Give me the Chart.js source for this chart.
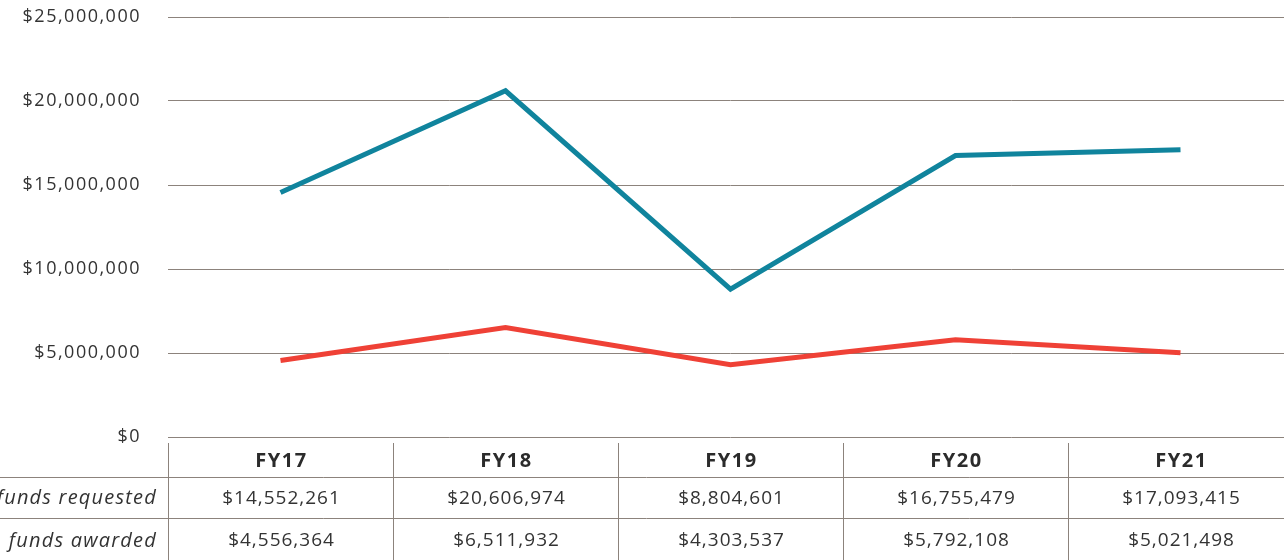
<!DOCTYPE html>
<html>
<head>
<meta charset="utf-8">
<script src="https://cdn.jsdelivr.net/npm/chart.js@4/dist/chart.umd.min.js"></script>
<style>
  html, body { margin: 0; padding: 0; background: #ffffff; overflow: hidden; }
  #wrap { position: relative; width: 1293px; height: 560px; }
</style>
</head>
<body>
<div id="wrap"><canvas id="c"></canvas></div>
<script>
const categories = ['FY17', 'FY18', 'FY19', 'FY20', 'FY21'];
const fundsRequested = [14552261, 20606974, 8804601, 16755479, 17093415];
const fundsAwarded = [4556364, 6511932, 4303537, 5792108, 5021498];
const rowLabels = ['funds requested', 'funds awarded'];
const yTicks = [0, 5000000, 10000000, 15000000, 20000000, 25000000];

const fmt = v => '$' + Number(v).toLocaleString('en-US');
const FONT = '"Open Sans", Lato, sans-serif';
const GRID = '#8c837c';

const spacingPlugin = {
  id: 'spacing',
  beforeDraw(chart) { chart.ctx.letterSpacing = '1.5px'; }
};

const tablePlugin = {
  id: 'dataTable',
  afterDraw(chart) {
    const ctx = chart.ctx;
    const xs = chart.scales.x;
    const area = chart.chartArea;
    const half = (xs.getPixelForValue(1) - xs.getPixelForValue(0)) / 2;
    const top = area.bottom;
    const headTop = top + 6;
    const row1 = top + 40;
    const row2 = top + 81;
    const bottom = chart.height;
    ctx.save();
    ctx.strokeStyle = GRID;
    ctx.lineWidth = 1;
    [row1, row2].forEach(y => {
      ctx.beginPath();
      ctx.moveTo(0, y + 0.5);
      ctx.lineTo(chart.width, y + 0.5);
      ctx.stroke();
    });
    for (let i = 0; i < categories.length; i++) {
      const xl = Math.round(xs.getPixelForValue(i) - half) + 0.5;
      ctx.beginPath();
      ctx.moveTo(xl, headTop);
      ctx.lineTo(xl, bottom);
      ctx.stroke();
    }
    ctx.textAlign = 'center';
    ctx.textBaseline = 'middle';
    categories.forEach((c, i) => {
      const cx = xs.getPixelForValue(i);
      ctx.fillStyle = '#2b2b2b';
      ctx.letterSpacing = '1.5px';
      ctx.font = 'bold 20px ' + FONT;
      ctx.fillText(c, cx + 1, (headTop + row1) / 2 + 1);
      ctx.fillStyle = '#333333';
      ctx.letterSpacing = '1px';
      ctx.font = '19px ' + FONT;
      ctx.fillText(fmt(fundsRequested[i]), cx + 1, (row1 + row2) / 2 + 1);
      ctx.fillText(fmt(fundsAwarded[i]), cx + 1, (row2 + bottom) / 2 + 2);
    });
    ctx.textAlign = 'right';
    ctx.letterSpacing = '1.2px';
    ctx.font = 'italic 20px ' + FONT;
    ctx.fillStyle = '#333333';
    ctx.fillText(rowLabels[0], area.left - 11, (row1 + row2) / 2 + 1);
    ctx.fillText(rowLabels[1], area.left - 11, (row2 + bottom) / 2 + 2);
    ctx.restore();
  }
};

new Chart(document.getElementById('c'), {
  type: 'line',
  data: {
    labels: categories,
    datasets: [
      {
        label: 'funds requested',
        data: fundsRequested,
        borderColor: '#10849d',
        backgroundColor: '#10849d',
        borderWidth: 5,
        pointRadius: 0,
        tension: 0,
        borderCapStyle: 'butt',
        borderJoinStyle: 'miter'
      },
      {
        label: 'funds awarded',
        data: fundsAwarded,
        borderColor: '#ef4136',
        backgroundColor: '#ef4136',
        borderWidth: 5,
        pointRadius: 0,
        tension: 0,
        borderCapStyle: 'butt',
        borderJoinStyle: 'miter'
      }
    ]
  },
  options: {
    responsive: true,
    maintainAspectRatio: false,
    animation: false,
    layout: { padding: { top: 0, left: 0, right: 0, bottom: 123 } },
    plugins: {
      legend: { display: false },
      tooltip: { enabled: false }
    },
    scales: {
      x: {
        display: false,
        offset: true
      },
      y: {
        min: 0,
        max: 25000000,
        afterFit(scale) { scale.width = 168; scale.paddingTop = 17; },
        afterBuildTicks(scale) { scale.ticks = yTicks.map(v => ({ value: v })); },
        border: { display: false },
        grid: { color: GRID, lineWidth: 1, drawTicks: false },
        ticks: {
          padding: 27,
          color: '#333333',
          font: { family: FONT, size: 18 },
          callback: v => fmt(v)
        }
      }
    }
  },
  plugins: [spacingPlugin, tablePlugin]
});
</script>
</body>
</html>
